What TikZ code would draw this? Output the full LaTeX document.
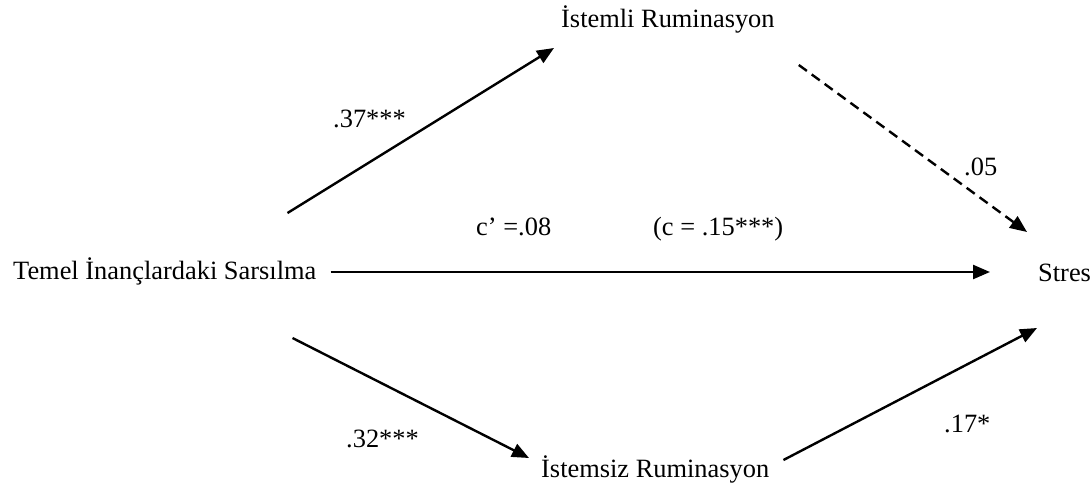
\documentclass[tikz,border=0pt]{standalone}
\usepackage{fontspec}
\setmainfont{Liberation Serif}
\usetikzlibrary{arrows.meta}

\begin{document}
\begin{tikzpicture}[x=0.5pt, y=-0.5pt, >={Triangle[length=8.5pt,width=7pt]}, line width=1.2pt,
		every node/.style={inner sep=0pt, font=\fontsize{13.2}{16}\selectfont},
		var/.style={anchor=base west},
		katsayi/.style={anchor=base west}]
	\useasboundingbox (0,0) rectangle (1092,488);
	
	% Degiskenler
	\node[var] (temel) at (12,279) {Temel İnançlardaki Sarsılma};
	\node[var] (istemli) at (560,27) {İstemli Ruminasyon};
	\node[var] (istemsiz) at (540,477) {İstemsiz Ruminasyon};
	\node[var] (stres) at (1037,281) {Stres};
	
	% Yollar
	\draw[->] ([shift={(-30,-66)}]temel.base east) -- ([shift={(-6,21)}]istemli.base west);
	\draw[->, dashed, dash pattern=on 5pt off 3pt] ([shift={(23,38)}]istemli.base east) -- ([shift={(-10,-49)}]stres.base west);
	\draw[->] ([shift={(13,-7)}]temel.base east) -- ([shift={(-47,-9)}]stres.base west);
	\draw[->] ([shift={(-25,59)}]temel.base east) -- ([shift={(-11,-19)}]istemsiz.base west);
	\draw[->] ([shift={(13,-17)}]istemsiz.base east) -- ([shift={(0,47)}]stres.base west);
	
	% Katsayilar
	\node[katsayi] (a1) at (332,127) {.37***};
	\node[katsayi] (b1) at (963,175) {.05};
	\node[katsayi] (cdirekt) at (475,235) {c’ =.08};
	\node[katsayi] (ctoplam) at (652,235) {(c = .15***)};
	\node[katsayi] (a2) at (345,447) {.32***};
	\node[katsayi] (b2) at (943,432) {.17*};
\end{tikzpicture}
\end{document}
